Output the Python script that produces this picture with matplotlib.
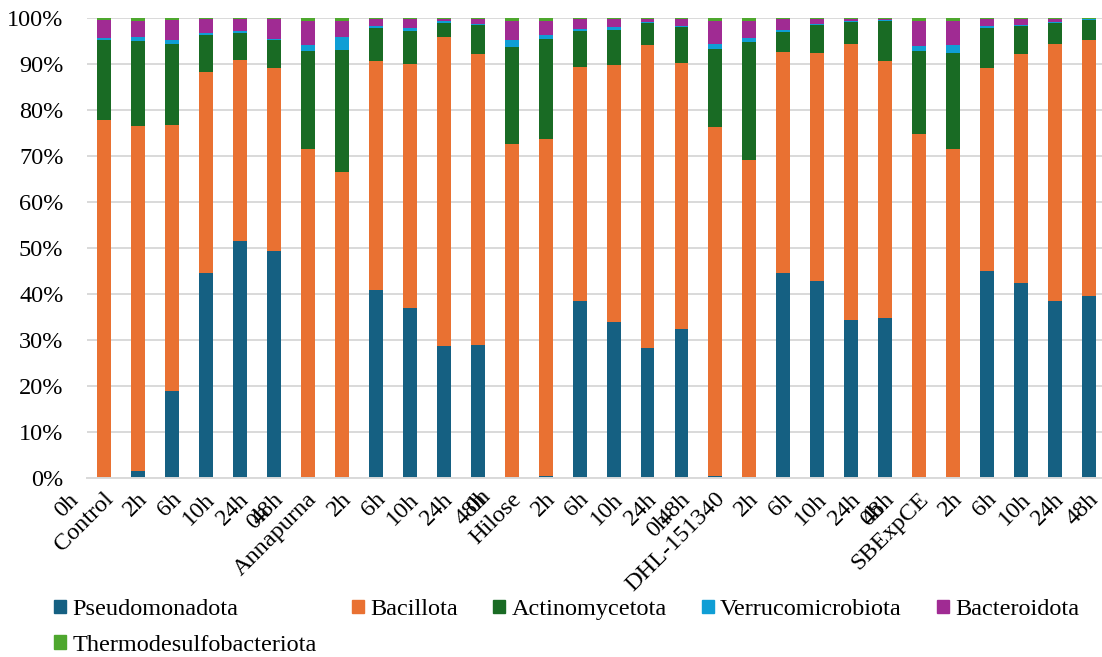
import matplotlib
matplotlib.use('Agg')
import matplotlib.pyplot as plt
import matplotlib.transforms as mtransforms
import numpy as np
from matplotlib.patches import Patch
from matplotlib.ticker import FuncFormatter
from matplotlib.font_manager import FontProperties

plt.rcParams['font.family'] = 'Liberation Serif'
FS = 17.5

groups = ['Control', 'Annapurna', 'Hilose', 'DHL-151340', 'SBExpCE']
times = ['0h', '2h', '6h', '10h', '24h', '48h']

# relative abundance (%) per sample, bottom to top
pseudomonadota = [0.3, 1.5, 18.9, 44.6, 51.5, 49.3,
                  0.3, 0.3, 40.9, 37.0, 28.7, 28.9,
                  0.3, 0.5, 38.5, 33.9, 28.3, 32.4,
                  0.4, 0.3, 44.6, 42.8, 34.3, 34.8,
                  0.3, 0.3, 45.0, 42.4, 38.5, 39.6]
bacillota = [77.5, 75.0, 57.8, 43.7, 39.4, 39.8,
             71.2, 66.2, 49.8, 53.0, 67.2, 63.3,
             72.3, 73.2, 50.8, 55.9, 65.8, 57.8,
             75.9, 68.8, 48.0, 49.6, 60.0, 55.9,
             74.5, 71.2, 44.1, 49.8, 55.8, 55.6]
actinomycetota = [17.4, 18.5, 17.6, 8.0, 5.8, 6.1,
                  21.3, 26.5, 7.1, 7.2, 3.0, 6.3,
                  21.1, 21.7, 7.9, 7.6, 4.9, 8.0,
                  17.0, 25.7, 4.4, 6.1, 4.9, 8.6,
                  18.0, 20.9, 8.7, 6.1, 4.6, 4.4]
verrucomicrobiota = [0.5, 0.9, 0.9, 0.4, 0.5, 0.2,
                     1.3, 2.9, 0.5, 0.6, 0.4, 0.2,
                     1.5, 0.9, 0.4, 0.6, 0.1, 0.1,
                     1.0, 0.9, 0.4, 0.2, 0.1, 0.4,
                     1.1, 1.7, 0.5, 0.2, 0.2, 0.2]
bacteroidota = [3.9, 3.5, 4.5, 3.1, 2.6, 4.4,
                5.2, 3.4, 1.5, 2.0, 0.5, 1.1,
                4.1, 3.0, 2.2, 1.8, 0.7, 1.5,
                5.0, 3.6, 2.4, 1.1, 0.5, 0.1,
                5.4, 5.2, 1.5, 1.3, 0.7, 0.0]
thermodesulfobacteriota = [0.4, 0.6, 0.3, 0.2, 0.2, 0.2,
                           0.7, 0.7, 0.2, 0.2, 0.2, 0.2,
                           0.7, 0.7, 0.2, 0.2, 0.2, 0.2,
                           0.7, 0.7, 0.2, 0.2, 0.2, 0.2,
                           0.7, 0.7, 0.2, 0.2, 0.2, 0.2]

series = [('Pseudomonadota', pseudomonadota, '#156082'),
          ('Bacillota', bacillota, '#E97132'),
          ('Actinomycetota', actinomycetota, '#196B24'),
          ('Verrucomicrobiota', verrucomicrobiota, '#0F9ED5'),
          ('Bacteroidota', bacteroidota, '#A02B93'),
          ('Thermodesulfobacteriota', thermodesulfobacteriota, '#4EA72E')]

# first bar of each group carries the group name, "0h" is added above it
labels = []
for g in groups:
    for t in times:
        labels.append(g if t == '0h' else t)

fig = plt.figure(figsize=(11.02, 6.57), dpi=100)
ax = fig.add_axes([0.079, 0.2725, 0.9247, 0.6997])

x = np.arange(len(labels))
bottom = np.zeros(len(labels))
for name, vals, col in series:
    ax.bar(x, vals, 0.41, bottom=bottom, color=col, zorder=2)
    bottom += np.array(vals)

ax.set_xlim(-0.5, len(labels) - 0.5)
ax.set_ylim(0, 100)
ax.set_yticks(range(0, 101, 10))
ax.yaxis.set_major_formatter(FuncFormatter(lambda v, p: f'{int(v)}%'))
ax.yaxis.grid(True, color='#d9d9d9', lw=1.4, zorder=0)
ax.set_axisbelow(True)
for s in ['top', 'right', 'left']:
    ax.spines[s].set_visible(False)
ax.spines['bottom'].set_color('#d9d9d9')
ax.spines['bottom'].set_linewidth(1.4)
ax.tick_params(length=0, labelsize=FS)
ax.tick_params(axis='y', pad=17)
ax.tick_params(axis='x', pad=0)
ax.set_xticks(x)
ax.set_xticklabels(labels, rotation=45, rotation_mode='anchor',
                   ha='right', va='baseline')
DX, DY = 10, 22  # baseline end of label relative to tick, px
shift = mtransforms.ScaledTranslation(DX / 100, -DY / 100, fig.dpi_scale_trans)
for lab in ax.get_xticklabels():
    lab.set_transform(lab.get_transform() + shift)

# "0h" centred one line above each group name
fig.canvas.draw()
r = fig.canvas.get_renderer()
prop = FontProperties(family='Liberation Serif', size=FS)
c = np.sqrt(0.5)
L = 24
for gi, g in enumerate(groups):
    w, h, d = r.get_text_width_height_descent(g, prop, ismath=False)
    xd, yd = ax.transData.transform((gi * len(times), 0))
    bx, by = xd + DX, yd - DY
    cx, cy = bx - w / 2 * c, by - w / 2 * c
    ox, oy = cx - L * c, cy + L * c
    fig.text(ox / fig.bbox.width, oy / fig.bbox.height, '0h', rotation=45,
             rotation_mode='anchor', ha='center', va='baseline', fontsize=FS)

handles = [Patch(color=c_, label=n) for n, v, c_ in series]
order = [0, 5, 1, 2, 3, 4]
fig.legend([handles[i] for i in order], [series[i][0] for i in order],
           loc='upper left', bbox_to_anchor=(0.049, 0.088), ncol=5,
           frameon=False, fontsize=FS, borderpad=0, borderaxespad=0,
           handlelength=0.5, handleheight=0.5, handletextpad=0.25,
           columnspacing=1.45, labelspacing=0.6)

fig.savefig('out.png', dpi=100)
